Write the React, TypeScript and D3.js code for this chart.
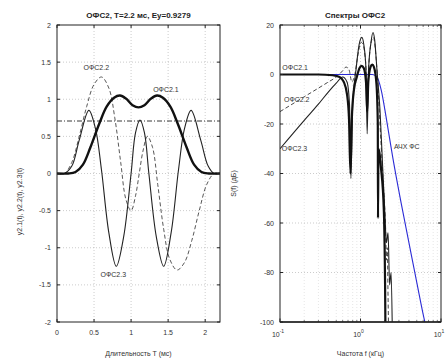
import React from "react";
import * as d3 from "d3";

// временные сигналы ОФС2 (t в мс)
const t21 = [0, 0.15, 0.25, 0.35, 0.45, 0.57, 0.67, 0.77, 0.85, 0.93, 1.02, 1.1, 1.18, 1.27, 1.35, 1.43, 1.53, 1.63, 1.75, 1.85, 1.95, 2.05, 2.2];
const y21 = [0, 0, 0.02, 0.12, 0.35, 0.67, 0.9, 1.02, 1.05, 1.01, 0.92, 0.89, 0.92, 1.01, 1.05, 1.02, 0.9, 0.67, 0.35, 0.12, 0.02, 0, 0];

const t22 = [0, 0.1, 0.2, 0.3, 0.4, 0.5, 0.6, 0.7, 0.78, 0.86, 0.93, 1.0, 1.06, 1.11, 1.16, 1.22, 1.29, 1.36, 1.44, 1.52, 1.62, 1.72, 1.82, 1.92, 2.02, 2.12, 2.2];
const y22 = [0, 0, 0.15, 0.5, 0.9, 1.2, 1.3, 1.15, 0.75, 0.15, -0.35, -0.5, -0.3, 0, 0.3, 0.5, 0.35, -0.15, -0.75, -1.15, -1.3, -1.2, -0.9, -0.5, -0.15, 0, 0];

const t23 = [0, 0.1, 0.2, 0.3, 0.43, 0.52, 0.6, 0.7, 0.8, 0.9, 1.0, 1.06, 1.12, 1.18, 1.24, 1.34, 1.44, 1.54, 1.64, 1.72, 1.81, 1.94, 2.04, 2.12, 2.2];
const y23 = [0, 0, 0.1, 0.45, 0.85, 0.6, 0.05, -0.8, -1.25, -0.85, 0, 0.55, 0.72, 0.55, 0, -0.85, -1.25, -0.8, 0.05, 0.6, 0.85, 0.45, 0.1, 0, 0];

const level = 0.707;

// спектры (f в кГц, S в дБ)
const f21 = [0.1, 0.3, 0.45, 0.55, 0.62, 0.68, 0.72, 0.75, 0.78, 0.83, 0.9, 0.97, 1.03, 1.1, 1.17, 1.21, 1.25, 1.33, 1.4, 1.47, 1.58, 1.64, 1.65, 1.67, 1.8, 1.95, 2.02, 2.05];
const s21 = [0, 0, -0.3, -1, -3, -8, -18, -40, -18, -6, -1, 2.5, 3.5, 2.5, -3, -15, -3, 3, 4, 3, -4, -20, -58, -30, -38, -55, -85, -110];

const f22 = [0.1, 0.2, 0.3, 0.4, 0.5, 0.6, 0.66, 0.72, 0.78, 0.85, 0.93, 1.02, 1.08, 1.15, 1.22, 1.28, 1.38, 1.45, 1.52, 1.65, 1.8, 1.95, 2.05, 2.1, 2.15, 2.2, 2.25];
const s22 = [-15, -9, -5.5, -3, -1, 1.5, 3, 2, -3, 0, 8, 13, 12, 6, -5, 6, 14, 15, 11, -5, -28, -48, -62, -75, -70, -90, -110];

const f23 = [0.1, 0.2, 0.3, 0.4, 0.5, 0.6, 0.68, 0.73, 0.76, 0.8, 0.88, 0.96, 1.04, 1.1, 1.17, 1.21, 1.26, 1.35, 1.43, 1.5, 1.6, 1.75, 1.9, 2.0, 2.1, 2.2, 2.3, 2.4, 2.5];
const s23 = [-30, -18.5, -12, -7, -3.5, -1, -3, -12, -42, -12, 2, 12, 15, 12, 2, -24, 2, 13, 17, 14, 2, -15, -40, -55, -68, -64, -85, -80, -110];

const fFilt = [0.1, 1.4, 1.6, 1.8, 2.1, 2.5, 3.2, 4, 5, 6.3, 7];
const sFilt = [0, 0, -1, -6, -18, -33, -52, -68, -84, -100, -106];

const tTicks = [0, 0.5, 1, 1.5, 2];
const yTicks = [-2, -1.5, -1, -0.5, 0, 0.5, 1, 1.5, 2];
const sTicks = [-100, -80, -60, -40, -20, 0, 20];
const fTicks = [0.1, 1, 10];
const fTickExp = ["-1", "0", "1"];

const FONT = "'Liberation Sans', Arial, sans-serif";

const zip = (xs: number[], ys: number[]) => xs.map((x, i) => [x, ys[i]] as [number, number]);

export default function App() {
  // левый график
  const L = { left: 57, right: 220, top: 25, bottom: 322 };
  const x1 = d3.scaleLinear().domain([0, 2.2]).range([L.left, L.right]);
  const y1 = d3.scaleLinear().domain([-2, 2]).range([L.bottom, L.top]);
  const line1 = d3.line<[number, number]>().x(d => x1(d[0])).y(d => y1(d[1])).curve(d3.curveCatmullRom);

  // правый график
  const R = { left: 280, right: 441, top: 25, bottom: 322 };
  const x2 = d3.scaleLog().domain([0.1, 10]).range([R.left, R.right]);
  const y2 = d3.scaleLinear().domain([-100, 20]).range([R.bottom, R.top]);
  const line2 = d3.line<[number, number]>().x(d => x2(d[0])).y(d => y2(d[1])).curve(d3.curveMonotoneX);

  const minorF: number[] = [];
  [0.1, 1].forEach(dec => { for (let k = 2; k <= 9; k++) minorF.push(dec * k); });

  const grid = { stroke: "#aaa", strokeWidth: 0.6, strokeDasharray: "1,2" };
  const txt = { fontFamily: FONT, fontSize: 7, fill: "#333" };

  return (
    <svg width={446} height={361} style={{ position: "absolute", left: 0, top: 0, background: "#fff" }}>
      <defs>
        <clipPath id="c1"><rect x={L.left} y={L.top} width={L.right - L.left} height={L.bottom - L.top} /></clipPath>
        <clipPath id="c2"><rect x={R.left} y={R.top} width={R.right - R.left} height={R.bottom - R.top} /></clipPath>
      </defs>
      <rect width={446} height={361} fill="#fff" />

      {/* ---- левый ---- */}
      <g>
        {tTicks.slice(1).map(t => <line key={"gx" + t} x1={x1(t)} x2={x1(t)} y1={L.top} y2={L.bottom} {...grid} />)}
        {yTicks.slice(1, -1).map(v => <line key={"gy" + v} x1={L.left} x2={L.right} y1={y1(v)} y2={y1(v)} {...grid} />)}
        <g clipPath="url(#c1)">
          <line x1={L.left} x2={L.right} y1={y1(level)} y2={y1(level)} stroke="#222" strokeWidth={0.9} strokeDasharray="5,2,1,2" />
          <path d={line1(zip(t22, y22)) || ""} fill="none" stroke="#444" strokeWidth={0.9} strokeDasharray="4,2.5" />
          <path d={line1(zip(t23, y23)) || ""} fill="none" stroke="#222" strokeWidth={1.1} />
          <path d={line1(zip(t21, y21)) || ""} fill="none" stroke="#111" strokeWidth={2.4} />
        </g>
        <rect x={L.left} y={L.top} width={L.right - L.left} height={L.bottom - L.top} fill="none" stroke="#222" strokeWidth={1} />
        {tTicks.map(t => (
          <g key={"tx" + t}>
            <line x1={x1(t)} x2={x1(t)} y1={L.bottom} y2={L.bottom - 3} stroke="#222" />
            <line x1={x1(t)} x2={x1(t)} y1={L.top} y2={L.top + 3} stroke="#222" />
            <text x={x1(t)} y={L.bottom + 13} textAnchor="middle" {...txt}>{t}</text>
          </g>
        ))}
        {yTicks.map(v => (
          <g key={"ty" + v}>
            <line x1={L.left} x2={L.left + 3} y1={y1(v)} y2={y1(v)} stroke="#222" />
            <line x1={L.right} x2={L.right - 3} y1={y1(v)} y2={y1(v)} stroke="#222" />
            <text x={L.left - 6} y={y1(v) + 2.5} textAnchor="end" {...txt}>{v}</text>
          </g>
        ))}
        <text x={x1(0.53)} y={y1(1.4)} textAnchor="middle" {...txt}>ОФС2.2</text>
        <text x={x1(1.47)} y={y1(1.1)} textAnchor="middle" {...txt}>ОФС2.1</text>
        <text x={x1(0.76)} y={y1(-1.4)} textAnchor="middle" {...txt}>ОФС2.3</text>
        <text x={(L.left + L.right) / 2} y={18} textAnchor="middle" {...txt} fontSize={8} fontWeight="bold" fill="#222">ОФС2, T=2.2 мс, Ey=0.9279</text>
        <text x={(L.left + L.right) / 2} y={356} textAnchor="middle" {...txt}>Длительность T (мс)</text>
        <text transform={`translate(22,${(L.top + L.bottom) / 2 + 28}) rotate(-90)`} textAnchor="middle" {...txt}>y2.1(t), y2.2(t), y2.3(t)</text>
      </g>

      {/* ---- правый ---- */}
      <g>
        {minorF.map(f => <line key={"mf" + f} x1={x2(f)} x2={x2(f)} y1={R.top} y2={R.bottom} stroke="#ccc" strokeWidth={0.5} strokeDasharray="1,2" />)}
        {fTicks.slice(1, -1).map(f => <line key={"gf" + f} x1={x2(f)} x2={x2(f)} y1={R.top} y2={R.bottom} {...grid} />)}
        {sTicks.slice(1, -1).map(v => <line key={"gs" + v} x1={R.left} x2={R.right} y1={y2(v)} y2={y2(v)} {...grid} />)}
        <g clipPath="url(#c2)">
          <path d={line2(zip(fFilt, sFilt)) || ""} fill="none" stroke="#2b2bd6" strokeWidth={1.1} />
          <path d={line2(zip(f22, s22)) || ""} fill="none" stroke="#333" strokeWidth={0.9} strokeDasharray="4,2.5" />
          <path d={line2(zip(f23, s23)) || ""} fill="none" stroke="#222" strokeWidth={1.1} />
          <path d={line2(zip(f21, s21)) || ""} fill="none" stroke="#111" strokeWidth={2.2} />
        </g>
        <rect x={R.left} y={R.top} width={R.right - R.left} height={R.bottom - R.top} fill="none" stroke="#222" strokeWidth={1} />
        <line x1={R.left} x2={R.right} y1={R.bottom} y2={R.bottom} stroke="#222" strokeWidth={1.6} />
        {minorF.map(f => (
          <g key={"mt" + f}>
            <line x1={x2(f)} x2={x2(f)} y1={R.bottom} y2={R.bottom - 2} stroke="#222" strokeWidth={0.6} />
            <line x1={x2(f)} x2={x2(f)} y1={R.top} y2={R.top + 2} stroke="#222" strokeWidth={0.6} />
          </g>
        ))}
        {fTicks.map((f, i) => (
          <g key={"tf" + f}>
            <line x1={x2(f)} x2={x2(f)} y1={R.bottom} y2={R.bottom - 3.5} stroke="#222" />
            <line x1={x2(f)} x2={x2(f)} y1={R.top} y2={R.top + 3.5} stroke="#222" />
            <text x={x2(f) - 2} y={R.bottom + 15} textAnchor="middle" {...txt}>
              10<tspan dy={-4} fontSize={5}>{fTickExp[i]}</tspan>
            </text>
          </g>
        ))}
        {sTicks.map(v => (
          <g key={"ts" + v}>
            <line x1={R.left} x2={R.left + 3} y1={y2(v)} y2={y2(v)} stroke="#222" />
            <line x1={R.right} x2={R.right - 3} y1={y2(v)} y2={y2(v)} stroke="#222" />
            <text x={R.left - 6} y={y2(v) + 2.5} textAnchor="end" {...txt}>{v}</text>
          </g>
        ))}
        <text x={x2(0.107)} y={y2(2)} {...txt}>ОФС2.1</text>
        <text x={x2(0.112)} y={y2(-11)} {...txt}>ОФС2.2</text>
        <text x={x2(0.105)} y={y2(-31)} {...txt}>ОФС2.3</text>
        <text x={x2(2.6)} y={y2(-30)} {...txt}>АЧХ ФС</text>
        <text x={355} y={18} textAnchor="middle" {...txt} fontSize={8} fontWeight="bold" fill="#222">Спектры ОФС2</text>
        <text x={(R.left + R.right) / 2} y={356} textAnchor="middle" {...txt}>Частота f (кГц)</text>
        <text transform={`translate(236,${(R.top + R.bottom) / 2 + 10}) rotate(-90)`} textAnchor="middle" {...txt}>S(f) (дБ)</text>
      </g>
    </svg>
  );
}
